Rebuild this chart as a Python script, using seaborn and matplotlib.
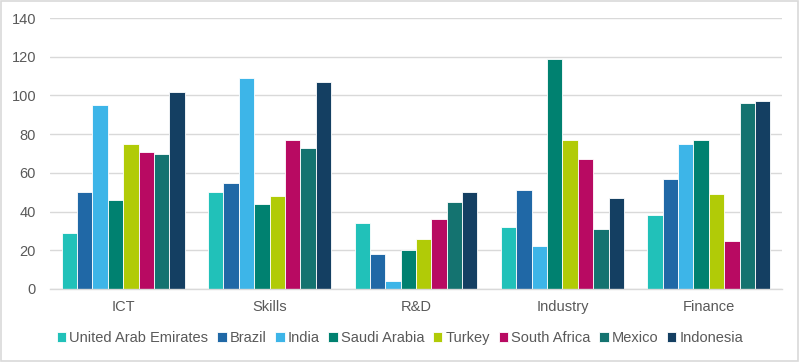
#!/usr/bin/env python3
"""Grouped bar chart: indicator scores by country across five pillars."""

import pandas as pd
import matplotlib.pyplot as plt
from matplotlib.patches import Rectangle
import seaborn as sns

# === Data ===
categories = ["ICT", "Skills", "R&D", "Industry", "Finance"]
countries = ["United Arab Emirates", "Brazil", "India", "Saudi Arabia",
             "Turkey", "South Africa", "Mexico", "Indonesia"]

uae = [29, 50, 34, 32, 38]
brazil = [50, 55, 18, 51, 57]
india = [95, 109, 4, 22, 75]
saudi_arabia = [46, 44, 20, 119, 77]
turkey = [75, 48, 26, 77, 49]
south_africa = [71, 77, 36, 67, 25]
mexico = [70, 73, 45, 31, 96]
indonesia = [102, 107, 50, 47, 97]

series = [uae, brazil, india, saudi_arabia, turkey, south_africa, mexico, indonesia]

colors = ["#21C1B9", "#2068A6", "#3DB5E8", "#008170",
          "#B1CB07", "#B80A62", "#147370", "#143F62"]

# long-form table for seaborn
rows = []
for country, vals in zip(countries, series):
    for cat, v in zip(categories, vals):
        rows.append({"Category": cat, "Country": country, "Value": v})
df = pd.DataFrame(rows)


def main():
    sns.set_theme(style="white")
    plt.rcParams["font.family"] = ["Liberation Sans", "DejaVu Sans"]

    fig = plt.figure(figsize=(8, 3.62), dpi=100)
    ax = fig.add_axes([0.0625, 0.2017, 0.915, 0.7483])

    sns.barplot(
        data=df, x="Category", y="Value", hue="Country",
        order=categories, hue_order=countries,
        palette=colors, width=0.84, ax=ax,
        edgecolor="#FFFFFF", linewidth=0.6, saturation=1,
    )

    ax.set_ylim(0, 140)
    ax.set_yticks(range(0, 141, 20))
    ax.set_xlim(-0.5, len(categories) - 0.5)
    ax.yaxis.grid(True, color="#D9D9D9", linewidth=1.0)
    ax.set_axisbelow(True)
    for side in ["top", "right", "left"]:
        ax.spines[side].set_visible(False)
    ax.spines["bottom"].set_color("#D9D9D9")
    ax.spines["bottom"].set_linewidth(1.0)
    ax.set_xlabel("")
    ax.set_ylabel("")
    ax.tick_params(axis="both", length=0, labelsize=10.5, labelcolor="#595959")
    ax.tick_params(axis="x", pad=8)
    ax.tick_params(axis="y", pad=10)

    handles, labels = ax.get_legend_handles_labels()
    ax.legend_.remove()
    fig.legend(
        handles, labels, loc="center", bbox_to_anchor=(0.5, 0.066),
        ncol=8, frameon=False, fontsize=10.5, labelcolor="#595959",
        handlelength=0.65, handleheight=0.65, handletextpad=0.2,
        columnspacing=0.6,
    )

    # light border around the figure
    fig.patches.append(Rectangle((0.001, 0.002), 0.997, 0.996, transform=fig.transFigure,
                                 fill=False, edgecolor="#D9D9D9", linewidth=1.2))

    fig.savefig("out.png", dpi=100)
    plt.close(fig)


if __name__ == "__main__":
    main()
